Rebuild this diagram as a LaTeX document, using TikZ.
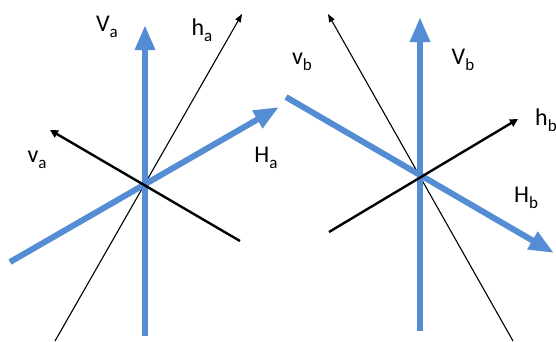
\documentclass[tikz,border=0pt]{standalone}
\usepackage{fontspec}
\setmainfont{Carlito}
\usepackage{tikz}
\usetikzlibrary{arrows.meta,positioning,calc}
\definecolor{polblue}{RGB}{84,141,212}
\tikzset{
  pol/beam/.style={draw=polblue, line width=6pt, -{Triangle[width=19pt,length=25pt]}, color=polblue},
  pol/axis/.style={draw=black, line width=2.4pt, -{Triangle[width=8pt,length=8pt]}},
  pol/thin/.style={draw=black, line width=1.1pt, -{Triangle[width=6pt,length=8pt]}},
  pol/label/.style={font=\fontsize{24}{28}\selectfont, inner sep=0pt}
}
\newcommand{\polsub}[2]{#1\raisebox{-6pt}{\fontsize{17}{17}\selectfont #2}}

\begin{document}
\begin{tikzpicture}[x=1pt,y=-1pt]
  \useasboundingbox (0,0) rectangle (556,341);

  % left pair
  \coordinate (Va0) at (145,336);  \coordinate (Va1) at (145,25);
  \coordinate (ha0) at (55,341);   \coordinate (ha1) at (242,14);
  \coordinate (Ha0) at (10,262);   \coordinate (Ha1) at (279,107);
  \coordinate (va0) at (240,241);  \coordinate (va1) at (50,130);
  \draw[pol/thin] (ha0) -- (ha1);
  \draw[pol/beam] (Ha0) -- (Ha1);
  \draw[pol/beam] (Va0) -- (Va1);
  \draw[pol/axis] (va0) -- (va1);
  \node[pol/label] (labVa) at (107,27) {\polsub{V}{a}};
  \node[pol/label] (labha) at (202,30) {\polsub{h}{a}};
  \node[pol/label] (labHa) at (266,158) {\polsub{H}{a}};
  \node[pol/label] (labva) at (37,160) {\polsub{v}{a}};

  % right pair
  \coordinate (Vb0) at (420,331);  \coordinate (Vb1) at (420,17);
  \coordinate (vb0) at (513,341);  \coordinate (vb1) at (328,14);
  \coordinate (Hb0) at (286,97);   \coordinate (Hb1) at (554,253);
  \coordinate (hb0) at (329,232);  \coordinate (hb1) at (518,119);
  \draw[pol/thin] (vb0) -- (vb1);
  \draw[pol/beam] (Hb0) -- (Hb1);
  \draw[pol/beam] (Vb0) -- (Vb1);
  \draw[pol/axis] (hb0) -- (hb1);
  \node[pol/label] (labvb) at (302,62) {\polsub{v}{b}};
  \node[pol/label] (labVb) at (463,60) {\polsub{V}{b}};
  \node[pol/label] (labhb) at (546,120) {\polsub{h}{b}};
  \node[pol/label] (labHb) at (526,198) {\polsub{H}{b}};
\end{tikzpicture}
\end{document}
